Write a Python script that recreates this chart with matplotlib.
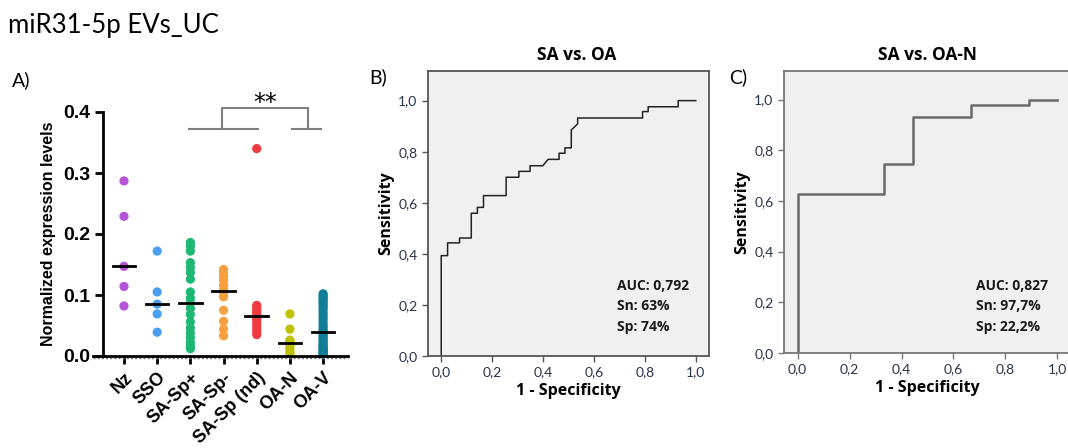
import numpy as np
import matplotlib
matplotlib.use('Agg')
import matplotlib.pyplot as plt
from matplotlib.transforms import ScaledTranslation

# ---- data ----
groups = ['Nz', 'SSO', 'SA-Sp+', 'SA-Sp-', 'SA-Sp (nd)', 'OA-N', 'OA-V']
colors = ['#b653d8', '#4c9ff0', '#1db872', '#f7a13e', '#ef3b3f', '#c0c200', '#117e99']
nz = [0.287, 0.229, 0.147, 0.114, 0.082]
sso = [0.172, 0.105, 0.085, 0.069, 0.039]
sa_pos = [0.186, 0.180, 0.172, 0.153, 0.145, 0.137, 0.126, 0.105, 0.095, 0.087,
          0.078, 0.068, 0.056, 0.046, 0.038, 0.030, 0.022, 0.016, 0.012]
sa_neg = [0.142, 0.137, 0.131, 0.124, 0.116, 0.108, 0.104, 0.097, 0.075, 0.057, 0.044, 0.033]
sa_nd = [0.340, 0.083, 0.080, 0.076, 0.072, 0.068, 0.065, 0.060, 0.055, 0.050, 0.045, 0.040, 0.035]
oa_n = [0.069, 0.044, 0.026, 0.024, 0.022, 0.018, 0.012, 0.007, 0.004]
oa_v = [0.102, 0.099, 0.096, 0.093, 0.090, 0.087, 0.083, 0.079, 0.075, 0.070, 0.065,
        0.060, 0.055, 0.050, 0.046, 0.042, 0.039, 0.036, 0.033, 0.030, 0.027, 0.024,
        0.021, 0.018, 0.016, 0.014, 0.012, 0.010, 0.008, 0.006, 0.005, 0.004, 0.003]
values = [nz, sso, sa_pos, sa_neg, sa_nd, oa_n, oa_v]

# ROC SA vs OA
fpr_b = [0, 0, 0.025, 0.025, 0.072, 0.072, 0.118, 0.118, 0.142, 0.142, 0.166, 0.166,
         0.255, 0.255, 0.305, 0.305, 0.349, 0.349, 0.399, 0.42, 0.463, 0.463, 0.486,
         0.486, 0.511, 0.511, 0.536, 0.536, 0.791, 0.791, 0.813, 0.813, 0.931, 0.931, 1.0]
tpr_b = [0, 0.393, 0.393, 0.443, 0.443, 0.462, 0.462, 0.559, 0.559, 0.582, 0.582, 0.628,
         0.628, 0.70, 0.70, 0.723, 0.723, 0.745, 0.745, 0.77, 0.77, 0.794, 0.794,
         0.815, 0.815, 0.885, 0.909, 0.932, 0.932, 0.957, 0.957, 0.976, 0.976, 1.0, 1.0]
# ROC SA vs OA-N
fpr_c = [0, 0, 0.333, 0.333, 0.444, 0.444, 0.667, 0.667, 0.889, 0.889, 1.0]
tpr_c = [0, 0.628, 0.628, 0.744, 0.744, 0.930, 0.930, 0.977, 0.977, 1.0, 1.0]

W, H = 1068, 448
fig = plt.figure(figsize=(W / 100, H / 100), dpi=100)


def box(l, t, r, b):
    return [l / W, 1 - b / H, (r - l) / W, (b - t) / H]


fig.text(8 / W, 1 - 25 / H, 'miR31-5p EVs_UC', fontsize=18.5, family='Lato', va='center')
fig.text(12 / W, 1 - 80 / H, 'A)', fontsize=14, family='Lato', va='center')

# ---- panel A ----
ax = fig.add_axes(box(93, 112, 348, 356))
for i, (v, c) in enumerate(zip(values, colors)):
    ax.scatter(np.full(len(v), i), v, s=44, color=c, edgecolors='none', zorder=2, clip_on=False)
    ax.plot([i - 0.34, i + 0.34], [np.median(v)] * 2, color='black', lw=2, zorder=3)
ax.set_xlim(-0.934, 6.75)
ax.set_ylim(0, 0.4)
ax.spines['top'].set_visible(False)
ax.spines['right'].set_visible(False)
ax.spines['left'].set_position(('data', -0.63))
ax.spines['left'].set_linewidth(2)
ax.spines['bottom'].set_linewidth(2)
ax.axhline(-0.004, color='#777777', lw=1, ls=(0, (1.5, 1.5)), clip_on=False)
ax.set_yticks([0, 0.1, 0.2, 0.3, 0.4])
ax.set_yticklabels(['0.0', '0.1', '0.2', '0.3', '0.4'], fontsize=14, fontweight='bold',
                   family='Liberation Sans')
ax.set_xticks(range(len(groups)))
ax.set_xticklabels(groups, rotation=45, ha='right', rotation_mode='anchor', fontsize=13,
                   fontweight='bold', family='Liberation Sans')
shift = ScaledTranslation(6 / 100, -4 / 100, fig.dpi_scale_trans)
for lab in ax.get_xticklabels():
    lab.set_transform(lab.get_transform() + shift)
ax.tick_params(width=2, length=6)
ax.set_ylabel('Normalized expression levels', fontsize=11.5, fontweight='bold',
              family='Liberation Sans', labelpad=5)
# significance bracket
g = '#7f7f7f'
ax.plot([1.95, 4.05], [0.372, 0.372], color=g, lw=1.5, clip_on=False)
ax.plot([5.05, 5.95], [0.372, 0.372], color=g, lw=1.5, clip_on=False)
ax.plot([2.95, 2.95, 5.55, 5.55], [0.372, 0.407, 0.407, 0.372], color=g, lw=1.5, clip_on=False)
ax.text(4.25, 0.414, '**', ha='center', va='center', fontsize=17, family='DejaVu Sans')

# ---- ROC panels ----
tick_col = '#27324a'


def roc_panel(rect, fpr, tpr, line_col, lw, frame_col, ylim_top, title, tx, letter, lx,
              stats, sx):
    a = fig.add_axes(rect)
    a.set_facecolor('#f0f0f0')
    a.plot(fpr, tpr, color=line_col, lw=lw)
    a.set_xlim(-0.052, 1.052)
    a.set_ylim(0, ylim_top)
    ticks = [0, 0.2, 0.4, 0.6, 0.8, 1.0]
    labs = ['0,0', '0,2', '0,4', '0,6', '0,8', '1,0']
    a.set_xticks(ticks)
    a.set_xticklabels(labs)
    a.set_yticks(ticks)
    a.set_yticklabels(labs)
    a.tick_params(colors=frame_col, labelcolor=tick_col, labelsize=10, length=4, width=1)
    for lab in a.get_xticklabels() + a.get_yticklabels():
        lab.set_family('Lato')
    for s in a.spines.values():
        s.set_color(frame_col)
        s.set_linewidth(1.3)
    a.set_xlabel('1 - Specificity', fontsize=11.5, fontweight='bold', family='Open Sans',
                 labelpad=3)
    a.set_ylabel('Sensitivity', fontsize=11.5, fontweight='bold', family='Open Sans',
                 labelpad=3)
    fig.text(tx / W, 1 - 55 / H, title, fontsize=12.5, fontweight='bold', family='Open Sans',
             ha='center', va='center')
    fig.text(lx / W, 1 - 77 / H, letter, fontsize=14, family='Lato', va='center')
    for k, st in enumerate(stats):
        fig.text(sx / W, 1 - (286 + 20.5 * k) / H, st, fontsize=10, fontweight='bold',
                 family='Open Sans', va='center', color='#1a1a1a')
    return a


roc_panel(box(428, 71, 709, 356), fpr_b, tpr_b, '#222222', 1.1, '#555555', 1.116,
          'SA vs. OA', 577, 'B)', 369, ['AUC: 0,792', 'Sn: 63%', 'Sp: 74%'], 617)
roc_panel(box(784, 71, 1071, 353), fpr_c, tpr_c, '#6a6a6a', 1.8, '#777777', 1.113,
          'SA vs. OA-N', 927, 'C)', 729, ['AUC: 0,827', 'Sn: 97,7%', 'Sp: 22,2%'], 976)

fig.savefig('out.png', dpi=100)
